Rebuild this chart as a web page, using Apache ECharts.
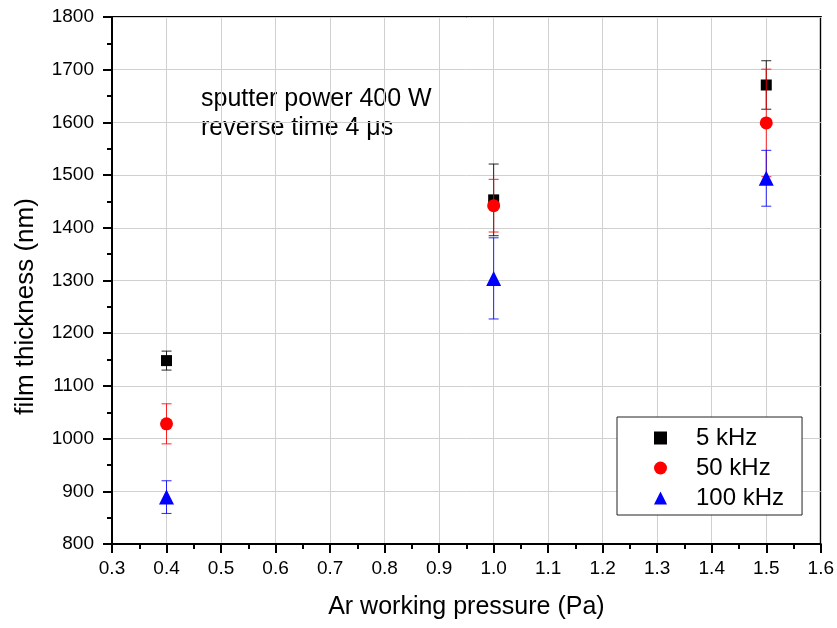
<!DOCTYPE html>
<html>
<head>
<meta charset="utf-8">
<script src="https://cdn.jsdelivr.net/npm/echarts@6/dist/echarts.min.js"></script>
<style>
html, body { margin: 0; padding: 0; background: #fff; }
#chart { width: 837px; height: 628px; }
</style>
</head>
<body>
<div id="chart"></div>
<script>
// Ar working pressure (Pa)
const pressures = [0.4, 1.0, 1.5];
// film thickness (nm) and standard deviation for each pulse frequency
const seriesNames = ['5 kHz', '50 kHz', '100 kHz'];
const thickness5k = [1148, 1453, 1671];
const error5k = [18, 68, 46];
const thickness50k = [1028, 1442, 1599];
const error50k = [38, 50, 102];
const thickness100k = [889, 1304, 1494];
const error100k = [31, 77, 53];

const colors = ['#000000', '#ff0000', '#0000ff'];
const symbols = ['rect', 'circle', 'triangle'];
const symbolSizes = [11, 13, 15];
const values = [thickness5k, thickness50k, thickness100k];
const errors = [error5k, error50k, error100k];

const FONT = 'Liberation Sans, Arial, sans-serif';

function errorBarSeries(idx) {
  const data = pressures.map((p, i) => [p, values[idx][i] - errors[idx][i], values[idx][i] + errors[idx][i]]);
  return {
    type: 'custom',
    name: seriesNames[idx] + ' error',
    z: 2 + idx * 2,
    silent: true,
    data: data,
    renderItem: function (params, api) {
      const x = api.value(0);
      const lo = api.coord([x, api.value(1)]);
      const hi = api.coord([x, api.value(2)]);
      const w = 5;
      const style = { stroke: colors[idx], lineWidth: 1, opacity: 0.85 };
      return {
        type: 'group',
        children: [
          { type: 'line', shape: { x1: lo[0], y1: lo[1], x2: hi[0], y2: hi[1] }, style: style },
          { type: 'line', shape: { x1: lo[0] - w, y1: lo[1], x2: lo[0] + w, y2: lo[1] }, style: style },
          { type: 'line', shape: { x1: hi[0] - w, y1: hi[1], x2: hi[0] + w, y2: hi[1] }, style: style }
        ]
      };
    }
  };
}

function pointSeries(idx) {
  return {
    type: 'scatter',
    name: seriesNames[idx],
    z: 3 + idx * 2,
    symbol: symbols[idx],
    symbolSize: symbolSizes[idx],
    itemStyle: { color: colors[idx], opacity: 1 },
    data: pressures.map((p, i) => [p, values[idx][i]])
  };
}

const series = [];
for (let k = 0; k < 3; k++) {
  series.push(pointSeries(k));
  series.push(errorBarSeries(k));
}

const axisCommon = {
  type: 'value',
  nameLocation: 'middle',
  nameTextStyle: { fontFamily: FONT, fontSize: 25, color: '#000' },
  axisLine: { show: true, onZero: false, lineStyle: { color: '#000', width: 2 } },
  axisTick: { show: true, inside: false, length: 9, lineStyle: { color: '#000', width: 2 } },
  minorTick: { show: true, splitNumber: 2, length: 5, lineStyle: { color: '#000', width: 2 } },
  splitLine: { show: true, lineStyle: { color: '#d0d0d0', width: 1 } }
};

const chart = echarts.init(document.getElementById('chart'), null, { renderer: 'canvas' });
chart.setOption({
  animation: false,
  backgroundColor: '#ffffff',
  grid: {
    left: 112, right: 16, top: 17, bottom: 84,
    show: true, borderColor: '#000', borderWidth: 2, backgroundColor: 'transparent'
  },
  xAxis: Object.assign({}, axisCommon, {
    min: 0.3, max: 1.6, interval: 0.1,
    name: 'Ar working pressure (Pa)',
    nameGap: 51,
    axisLabel: { fontFamily: FONT, fontSize: 19, color: '#000', margin: 15, formatter: v => v.toFixed(1) }
  }),
  yAxis: Object.assign({}, axisCommon, {
    min: 800, max: 1800, interval: 100,
    name: 'film thickness (nm)',
    nameGap: 73,
    nameTextStyle: { fontFamily: FONT, fontSize: 26, color: '#000', padding: [0, 52, 0, 0] },
    axisLabel: { fontFamily: FONT, fontSize: 19, color: '#000', margin: 18, formatter: v => String(v) }
  }),
  legend: {
    data: seriesNames,
    orient: 'vertical',
    left: 617, top: 417,
    padding: [9, 18, 5, 37],
    itemGap: 6,
    itemWidth: 13, itemHeight: 13,
    borderColor: '#222', borderWidth: 1,
    backgroundColor: '#fff',
    textStyle: { fontFamily: FONT, fontSize: 24, lineHeight: 24, color: '#000', padding: [0, 0, 0, 24] },
    selectedMode: false
  },
  graphic: [
    {
      type: 'text', left: 201, top: 85,
      style: { text: 'sputter power 400 W\nreverse time 4 μs', font: '25px ' + FONT, fill: '#000', lineHeight: 29 }
    }
  ],
  series: series
});
</script>
</body>
</html>
